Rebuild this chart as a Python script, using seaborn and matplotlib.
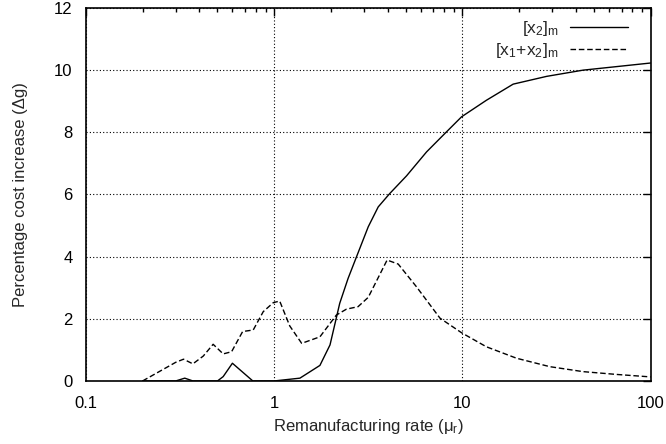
import numpy as np
import pandas as pd
import matplotlib
matplotlib.use('Agg')
import matplotlib.pyplot as plt
import matplotlib.ticker as mticker
import seaborn as sns

# ── Data ───────────────────────────────────────────────────────────────────
x2_rate = [0.2, 0.30, 0.335, 0.37, 0.50, 0.536, 0.60, 0.77, 1.0, 1.37, 1.75,
           1.98, 2.23, 2.47, 2.74, 3.16, 3.57, 4.11, 5.05, 6.45, 8.06, 9.9,
           13.4, 18.6, 28.0, 43.7, 100.0]
x2_cost = [0.0, 0.0, 0.09, 0.0, 0.0, 0.14, 0.57, 0.0, 0.0, 0.09, 0.50,
           1.16, 2.50, 3.30, 4.00, 4.96, 5.60, 6.03, 6.60, 7.37, 7.96, 8.50,
           9.03, 9.55, 9.80, 10.00, 10.23]

x12_rate = [0.2, 0.30, 0.33, 0.37, 0.42, 0.474, 0.536, 0.594, 0.68, 0.774,
            0.875, 0.99, 1.07, 1.21, 1.40, 1.75, 2.14, 2.42, 2.79, 3.16,
            3.98, 4.56, 5.7, 7.6, 9.9, 13.4, 19.4, 29.1, 43.7, 65.8, 100.0]
x12_cost = [0.0, 0.60, 0.70, 0.55, 0.80, 1.18, 0.87, 0.94, 1.59, 1.64,
            2.23, 2.52, 2.57, 1.77, 1.21, 1.42, 2.12, 2.31, 2.39, 2.69,
            3.89, 3.76, 3.03, 2.02, 1.55, 1.10, 0.73, 0.46, 0.30, 0.21, 0.13]

x_ticks = [0.1, 1, 10, 100]
x_ticklabels = ['0.1', '1', '10', '100']
y_ticks = [0, 2, 4, 6, 8, 10, 12]

df_x2 = pd.DataFrame({'rate': x2_rate, 'cost': x2_cost})
df_x12 = pd.DataFrame({'rate': x12_rate, 'cost': x12_cost})

# ── Style ──────────────────────────────────────────────────────────────────
sns.set_style("white")
plt.rcParams['font.family'] = ['Liberation Sans', 'DejaVu Sans']
plt.rcParams['mathtext.fontset'] = 'custom'
plt.rcParams['mathtext.rm'] = 'Liberation Sans'
plt.rcParams['mathtext.it'] = 'Liberation Sans'
plt.rcParams['font.size'] = 12

fig, ax = plt.subplots(figsize=(6.66, 4.44), dpi=100)
fig.subplots_adjust(left=0.129, right=0.977, top=0.982, bottom=0.142)

sns.lineplot(data=df_x2, x='rate', y='cost', ax=ax, color='black', lw=1.0,
             label=r'[x$_2$]$_\mathrm{m}$', sort=False)
sns.lineplot(data=df_x12, x='rate', y='cost', ax=ax, color='black', lw=1.0,
             label=r'[x$_1$+x$_2$]$_\mathrm{m}$', sort=False)
ax.lines[1].set_dashes((4, 2))

ax.set_xscale('log')
ax.set_xlim(0.1, 100)
ax.set_ylim(0, 12)
ax.set_xticks(x_ticks)
ax.set_xticklabels(x_ticklabels)
ax.xaxis.set_minor_locator(mticker.LogLocator(base=10, subs=np.arange(2, 10)))
ax.xaxis.set_minor_formatter(mticker.NullFormatter())
ax.set_yticks(y_ticks)

ax.tick_params(which='both', direction='in', top=True, right=True,
               labelsize=12, colors='black')
ax.tick_params(axis='x', pad=11)
ax.tick_params(axis='y', pad=9.5)
ax.tick_params(which='major', length=6, width=1)
ax.tick_params(which='minor', length=3, width=1)

for s in ax.spines.values():
    s.set_color('black')
    s.set_linewidth(1.2)

ax.grid(True, which='major', color='black', ls=(0, (1, 2)), lw=0.8)

ax.set_xlabel(r'Remanufacturing rate ($\mathrm{\mu_r}$)', fontsize=12, labelpad=4)
ax.set_ylabel('Percentage cost increase (\u0394g)', fontsize=12, labelpad=19)

leg = ax.legend(loc='upper right', bbox_to_anchor=(0.959, 0.971),
                bbox_transform=ax.transAxes, frameon=False, markerfirst=False,
                handlelength=3.3, handletextpad=0.66, labelspacing=0.18,
                borderaxespad=0, borderpad=0, fontsize=12.5)
for col in leg._legend_handle_box.get_children():
    col.align = 'right'

plt.savefig('out.png', dpi=100)
plt.close()
